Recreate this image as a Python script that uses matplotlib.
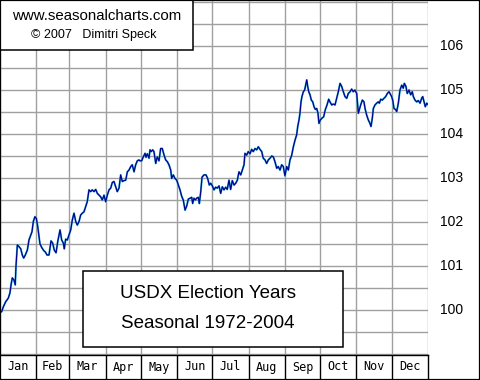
import matplotlib
matplotlib.use("Agg")
import matplotlib.pyplot as plt
from matplotlib.patches import Rectangle
from matplotlib.ticker import FixedLocator, NullFormatter

# ---- data (day of year, index value) ----
days = [0, 1.4, 2.8, 4.9, 7.1, 8.5, 9.4, 10.5, 11.9, 13.0, 13.6, 14.8, 16.2, 17.7, 19.0, 20.2,
        21.6, 23.3, 24.7, 26.2, 27.3, 28.4, 29.8, 31.0, 32.2, 33.3, 34.1, 35.8, 37.3, 38.6, 40.1,
        41.8, 43.5, 44.9, 46.3, 47.8, 49.2, 51.2, 52.6, 54.0, 54.8, 56.0, 57.4, 58.8, 60.3, 61.7,
        63.1, 64.6, 65.9, 67.4, 68.8, 70.2, 71.6, 73.1, 74.4, 75.9, 77.3, 78.7, 80.2, 81.6, 83.0,
        84.4, 85.9, 87.2, 88.7, 90.1, 91.5, 93.0, 94.4, 95.8, 97.2, 98.7, 100.0, 101.5, 102.9,
        104.3, 105.7, 107.2, 108.6, 110.0, 111.5, 112.8, 114.3, 115.7, 117.1, 118.5, 119.4, 120.8,
        122.2, 123.7, 124.5, 125.6, 127.1, 127.9, 129.0, 130.2, 131.3, 132.8, 134.1, 135.6, 137.0,
        138.4, 139.9, 141.3, 142.7, 144.1, 145.6, 146.4, 147.8, 149.2, 150.7, 152.1, 153.5, 155.0,
        156.3, 157.8, 159.2, 160.6, 162.0, 163.5, 164.3, 165.4, 166.6, 167.7, 169.1, 170.0, 171.2,
        172.3, 174.0, 175.7, 177.1, 178.5, 179.7, 181.1, 182.5, 183.9, 185.3, 186.8, 188.2, 189.6,
        191.0, 192.5, 193.8, 195.3, 196.7, 198.1, 199.6, 201.0, 202.4, 203.8, 205.3, 206.6, 208.1,
        208.9, 210.4, 211.7, 213.2, 214.6, 216.0, 217.5, 218.9, 220.3, 221.7, 223.2, 224.5, 226.0,
        227.4, 228.8, 230.3, 231.7, 233.1, 234.5, 236.0, 237.3, 238.8, 240.2, 241.6, 243.0, 244.5,
        245.9, 247.3, 248.8, 250.1, 251.6, 253.0, 253.9, 255.0, 255.8, 256.7, 257.5, 258.7, 259.8,
        260.7, 261.6, 262.4, 263.3, 264.4, 265.5, 266.7, 267.8, 268.9, 270.1, 271.2, 272.0, 273.2,
        274.6, 276.0, 277.4, 278.9, 280.3, 281.4, 282.9, 284.2, 285.7, 287.1, 288.5, 290.0, 291.4,
        292.8, 294.2, 295.7, 297.0, 298.5, 299.9, 301.3, 302.7, 304.2, 305.6, 306.4, 307.6, 309.0,
        310.4, 311.3, 312.7, 314.1, 315.5, 316.4, 317.5, 318.4, 319.8, 321.2, 322.6, 323.5, 324.7,
        326.0, 327.5, 328.9, 330.3, 331.7, 332.6, 334.0, 334.9, 336.0, 337.5, 338.3, 339.7, 341.1,
        342.6, 343.9, 344.8, 346.2, 347.3, 348.8, 350.2, 351.6, 352.5, 353.9, 355.4, 356.7, 358.2,
        359.6, 360.5, 361.6, 362.7, 363.9, 365.0]
values = [99.95, 99.96, 100.07, 100.19, 100.27, 100.39, 100.57, 100.73, 100.68, 100.57, 100.98,
          101.48, 101.44, 101.39, 101.25, 101.18, 101.25, 101.36, 101.59, 101.70, 101.78, 102.01,
          102.12, 102.08, 101.89, 101.67, 101.50, 101.41, 101.35, 101.32, 101.25, 101.25, 101.57,
          101.52, 101.36, 101.30, 101.55, 101.82, 101.59, 101.52, 101.39, 101.61, 101.59, 101.70,
          101.82, 102.05, 102.20, 102.01, 101.93, 102.01, 102.16, 102.20, 102.23, 102.35, 102.46,
          102.73, 102.69, 102.73, 102.69, 102.74, 102.65, 102.61, 102.57, 102.50, 102.61, 102.46,
          102.61, 102.73, 102.77, 102.90, 102.92, 102.80, 102.69, 102.77, 103.07, 102.92, 102.94,
          102.95, 103.14, 103.18, 103.26, 103.30, 103.14, 103.30, 103.39, 103.41, 103.39, 103.39,
          103.48, 103.56, 103.47, 103.55, 103.45, 103.64, 103.60, 103.64, 103.60, 103.33, 103.48,
          103.39, 103.67, 103.67, 103.52, 103.41, 103.37, 103.30, 103.18, 102.99, 103.07, 102.99,
          102.95, 102.84, 102.73, 102.58, 102.50, 102.27, 102.36, 102.52, 102.54, 102.56, 102.42,
          102.54, 102.50, 102.54, 102.56, 102.42, 102.69, 103.02, 103.07, 103.07, 102.99, 102.84,
          102.88, 102.82, 102.73, 102.79, 102.77, 102.82, 102.65, 102.80, 102.73, 102.79, 102.74,
          102.95, 102.74, 102.94, 102.84, 102.88, 102.95, 103.14, 103.07, 103.18, 103.30, 103.56,
          103.52, 103.60, 103.55, 103.65, 103.60, 103.67, 103.64, 103.71, 103.65, 103.60, 103.45,
          103.41, 103.33, 103.41, 103.45, 103.50, 103.48, 103.37, 103.22, 103.26, 103.18, 103.30,
          103.26, 103.05, 103.26, 103.18, 103.41, 103.52, 103.70, 103.86, 103.98, 104.17, 104.32,
          104.47, 104.73, 104.85, 104.96, 105.00, 105.11, 105.23, 105.08, 104.96, 104.89, 104.77,
          104.73, 104.62, 104.56, 104.58, 104.47, 104.24, 104.32, 104.36, 104.39, 104.55, 104.66,
          104.79, 104.73, 104.66, 104.68, 104.66, 104.81, 104.96, 105.15, 105.08, 104.96, 104.85,
          104.81, 104.92, 104.96, 105.02, 104.96, 105.00, 104.92, 104.47, 104.55, 104.66, 104.77,
          104.73, 104.58, 104.43, 104.32, 104.24, 104.17, 104.36, 104.58, 104.66, 104.70, 104.73,
          104.70, 104.79, 104.77, 104.81, 104.85, 104.92, 104.96, 104.92, 104.85, 104.77, 104.58,
          104.55, 104.51, 104.70, 105.00, 105.11, 105.04, 105.15, 105.08, 104.92, 105.00, 104.89,
          104.96, 104.85, 104.77, 104.73, 104.76, 104.70, 104.81, 104.85, 104.73, 104.62, 104.70,
          104.67]

months = ["Jan", "Feb", "Mar", "Apr", "May", "Jun", "Jul", "Aug", "Sep", "Oct", "Nov", "Dec"]
month_starts = [0, 31, 59, 90, 120, 151, 181, 212, 243, 273, 304, 334, 365]
ytick_values = [100, 101, 102, 103, 104, 105, 106]
ytick_labels = ["100", "101", "102", "103", "104", "105", "106"]
grid_levels = [99.0, 99.5, 100.0, 100.5, 101.0, 101.5, 102.0, 102.5, 103.0, 103.5,
               104.0, 104.5, 105.0, 105.5, 106.0, 106.5, 107.0]

title_lines = ["USDX Election Years", "Seasonal 1972-2004"]
site_text = "www.seasonalcharts.com"
copy_text = "\u00a9 2007   Dimitri Speck"

W, H = 480, 380
fig = plt.figure(figsize=(W / 100, H / 100), dpi=100)
fig.patch.set_facecolor("white")

grid_color = "#a0a0a0"

# main plot area
ax = fig.add_axes([0, 25 / H, 428 / W, 355 / H])
ax.set_xlim(0, 365)
ax.set_ylim(98.977, 107.045)
for s in ax.spines.values():
    s.set_visible(False)
ax.xaxis.set_major_locator(FixedLocator(month_starts))
ax.xaxis.set_major_formatter(NullFormatter())
ax.yaxis.set_major_locator(FixedLocator(grid_levels))
ax.yaxis.set_major_formatter(NullFormatter())
ax.tick_params(length=0)
ax.grid(True, color=grid_color, linewidth=1.0)
ax.set_axisbelow(True)

ax.plot(days, values, color="#30b0d8", linewidth=1.4, zorder=2)
ax.plot(days, values, color="#00008c", linewidth=0.85, zorder=3)

# right-side value labels
for v, lab in zip(ytick_values, ytick_labels):
    ax.text(440 / 428, v, lab, transform=ax.get_yaxis_transform(), ha="left", va="center",
            fontsize=10, family="Liberation Sans", color="black", clip_on=False)

# month band
axm = fig.add_axes([0, 1 / H, 428 / W, 24 / H])
axm.set_xlim(0, 365)
axm.set_ylim(0, 1)
axm.set_xticks([])
axm.set_yticks([])
for name, s in axm.spines.items():
    s.set_visible(name in ("top", "right"))
    s.set_color("black")
    s.set_linewidth(1.0)
axm.patch.set_alpha(0)
for b in month_starts[1:-1]:
    axm.axvline(b, color="black", linewidth=1.0)
for i, m in enumerate(months):
    axm.text((month_starts[i] + month_starts[i + 1]) / 2, 0.5, m, ha="center", va="center",
             fontsize=8.5, family="DejaVu Sans Mono", color="black")

# top-left credit box
fig.add_artist(Rectangle((0, (H - 50) / H), 193 / W, 50 / H, transform=fig.transFigure,
                         facecolor="white", edgecolor="black", linewidth=1.1, zorder=5))
fig.text(97 / W, 1 - 16 / H, site_text, ha="center", va="center", fontsize=10.8,
         family="Liberation Sans", zorder=6)
fig.text(94 / W, 1 - 35 / H, copy_text, ha="center", va="center", fontsize=9,
         family="Liberation Sans", zorder=6)

# title box
fig.add_artist(Rectangle((83 / W, (H - 347) / H), 260 / W, 76 / H, transform=fig.transFigure,
                         facecolor="white", edgecolor="black", linewidth=1.1, zorder=5))
fig.text(208 / W, 1 - 294 / H, title_lines[0], ha="center", va="center", fontsize=13.5,
         family="Liberation Sans", zorder=6)
fig.text(208 / W, 1 - 324 / H, title_lines[1], ha="center", va="center", fontsize=13.5,
         family="Liberation Sans", zorder=6)

# outer frame
fig.add_artist(Rectangle((0, 0), 1, 1, transform=fig.transFigure, fill=False,
                         edgecolor="black", linewidth=1.6, zorder=10))

fig.savefig("out.png", dpi=100, facecolor="white")
